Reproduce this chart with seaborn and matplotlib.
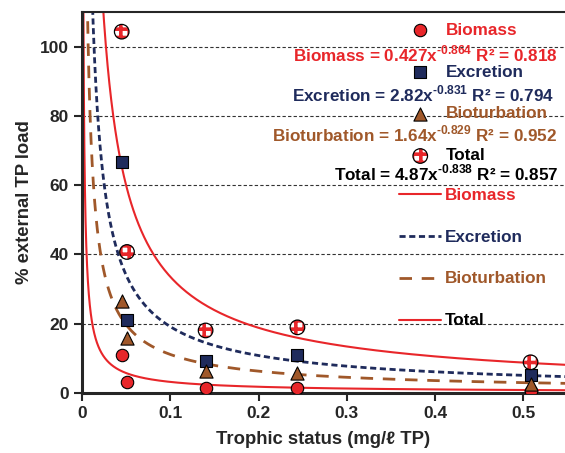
import numpy as np
import pandas as pd
import seaborn as sns
import matplotlib.pyplot as plt

sns.set_style("ticks")
plt.rcParams['font.family'] = ['Liberation Sans', 'DejaVu Sans']
plt.rcParams['font.weight'] = 'bold'
plt.rcParams['mathtext.fontset'] = 'custom'
plt.rcParams['mathtext.rm'] = 'Liberation Sans:bold'
plt.rcParams['mathtext.bf'] = 'Liberation Sans:bold'
plt.rcParams['hatch.linewidth'] = 2.6

# measured points (trophic status, % external TP load)
trophic = [0.045, 0.051, 0.140, 0.244, 0.508]
biomass = [10.9, 3.2, 1.3, 1.4, 0.6]
excretion = [66.7, 21.1, 9.3, 10.9, 5.2]
bioturbation = [26.5, 15.7, 6.4, 5.7, 2.5]
total = [104.4, 40.7, 18.0, 18.9, 8.8]

# power-law fits y = a * x^b
fit_names = ['Biomass', 'Excretion', 'Bioturbation', 'Total']
fit_a = [0.427, 2.82, 1.64, 4.87]
fit_b = [-0.864, -0.831, -0.829, -0.838]
fit_r2 = [0.818, 0.794, 0.952, 0.857]

red = '#E8262A'
navy = '#1F2B5C'
brown = '#A0582A'
text_cols = [red, navy, brown, 'black']
line_cols = [red, navy, brown, red]
line_styles = ['-', (0, (2.2, 1.3)), (0, (4.5, 3.5)), '-']
line_widths = [1.5, 2.0, 2.0, 1.5]

fig = plt.figure(figsize=(5.65, 4.53), dpi=100)
ax = fig.add_axes([0.1451, 0.1331, 0.8549, 0.8397])

xs = np.geomspace(0.0003, 0.56, 800)
line_handles = []
for name, a, b, c, ls, lw in zip(fit_names, fit_a, fit_b, line_cols, line_styles, line_widths):
    sns.lineplot(x=xs, y=a * xs ** b, color=c, linestyle=ls, linewidth=lw, ax=ax, zorder=2)
    line_handles.append(ax.lines[-1])

pts = pd.DataFrame({'x': trophic, 'Biomass': biomass, 'Excretion': excretion,
                    'Bioturbation': bioturbation, 'Total': total})

h_bio = sns.scatterplot(data=pts, x='x', y='Biomass', marker='o', s=80, color=red,
                        edgecolor='black', linewidth=0.8, ax=ax, zorder=4).collections[-1]
h_exc = sns.scatterplot(data=pts, x='x', y='Excretion', marker='s', s=70, color=navy,
                        edgecolor='black', linewidth=0.8, ax=ax, zorder=4).collections[-1]
h_btb = sns.scatterplot(data=pts, x='x', y='Bioturbation', marker='^', s=90, color=brown,
                        edgecolor='black', linewidth=0.8, ax=ax, zorder=4).collections[-1]
h_tot1 = ax.scatter(pts['x'], pts['Total'], marker='o', s=110, facecolor='white',
                    edgecolor=red, hatch='++', linewidth=0, zorder=4)
h_tot2 = ax.scatter(pts['x'], pts['Total'], marker='o', s=110, facecolor='none',
                    edgecolor='black', linewidth=0.9, zorder=5)

ax.set_xlim(0, 0.547)
ax.set_ylim(0, 110)
ax.set_xticks([0, 0.1, 0.2, 0.3, 0.4, 0.5])
ax.set_xticklabels(['0', '0.1', '0.2', '0.3', '0.4', '0.5'])
ax.set_yticks([0, 20, 40, 60, 80, 100])
for gy in [20, 40, 60, 80, 100]:
    ax.axhline(gy, color='#333333', linewidth=0.8, linestyle=(0, (3, 2)), zorder=1)
ax.tick_params(labelsize=12.5, length=6, width=1.5, direction='out')
for sp in ['left', 'bottom']:
    ax.spines[sp].set_linewidth(2.2)
ax.spines['top'].set_linewidth(1.5)
ax.spines['right'].set_visible(False)
ax.set_xlabel('Trophic status (mg/ℓ TP)', fontsize=13.3, fontweight='bold', labelpad=7)
ax.set_ylabel('% external TP load', fontsize=13.3, fontweight='bold', labelpad=5)

W, H = 565, 453
leg1 = ax.legend([h_bio, h_exc, h_btb, (h_tot1, h_tot2)], fit_names,
                 loc='center left', bbox_to_anchor=(411.7 / W, 1 - 93 / H),
                 bbox_transform=fig.transFigure, frameon=False, fontsize=12.3,
                 handlelength=1.0, handletextpad=1.0, labelspacing=1.58,
                 borderpad=0, borderaxespad=0, labelcolor=text_cols)
ax.add_artist(leg1)
ax.legend(line_handles, fit_names, loc='center left',
          bbox_to_anchor=(399 / W, 1 - 258 / H), bbox_transform=fig.transFigure,
          frameon=False, fontsize=12.3, handlelength=2.45, handletextpad=0.24,
          labelspacing=1.58, borderpad=0, borderaxespad=0, labelcolor=text_cols)

eq_base = [61, 101, 141, 180]
eq_right = [558, 554, 557, 558]
for name, a, b, r2, c, yb, xr in zip(fit_names, fit_a, fit_b, fit_r2, text_cols, eq_base, eq_right):
    s = f'{name} = {a}x$^{{\\text{{{b}}}}}$ R² = {r2}'
    fig.text(xr / W, 1 - yb / H, s, ha='right', va='baseline', color=c,
             fontsize=12.3, fontweight='bold')

fig.savefig('out.png', dpi=100)
